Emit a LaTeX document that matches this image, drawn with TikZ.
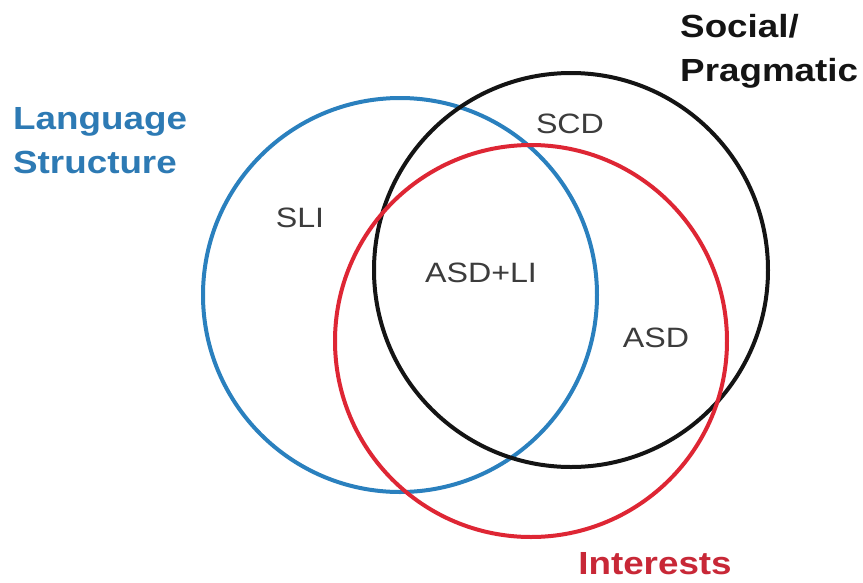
\documentclass[tikz,border=0pt]{standalone}
\usepackage{fontspec}
\setmainfont{Liberation Sans}
\newfontfamily\labfont[FakeStretch=1.15]{Liberation Sans}
\definecolor{vblue}{RGB}{42,128,190}
\definecolor{vred}{RGB}{222,38,52}
\definecolor{vblack}{RGB}{20,20,20}
\definecolor{vgray}{RGB}{60,60,60}
\definecolor{vtitleblue}{RGB}{45,122,180}
\definecolor{vtitlered}{RGB}{200,40,55}
\begin{document}
\begin{tikzpicture}[x=1pt,y=-1pt,
  ring/.style={line width=4pt},
  title/.style={font=\labfont\bfseries\fontsize{32}{44}\selectfont, inner sep=0pt, align=left},
  region/.style={font=\labfont\fontsize{28}{32}\selectfont, text=vgray, inner sep=0pt, anchor=base}]
\useasboundingbox (0,0) rectangle (863,582);
\fill[white] (0,0) rectangle (863,582);
% circles
\draw[ring, vblue] (400,295) circle[radius=197];
\draw[ring, vblack] (571,270) circle[radius=197];
\draw[ring, vred] (531,341) circle[radius=196];
% titles
\node[title, text=vtitleblue, anchor=west] (lang) at (13,141) {Language\\Structure};
\node[title, text=vblack, anchor=west] (soc) at (680,51) {Social/\\Pragmatic};
\node[title, text=vtitlered, anchor=base] (int) at (655,574) {Interests};
% regions
\node[region] (sli) at (300,227) {SLI};
\node[region] (scd) at (570,133) {SCD};
\node[region] (asdli) at (481,282) {ASD+LI};
\node[region] (asd) at (656,347) {ASD};
\end{tikzpicture}
\end{document}
